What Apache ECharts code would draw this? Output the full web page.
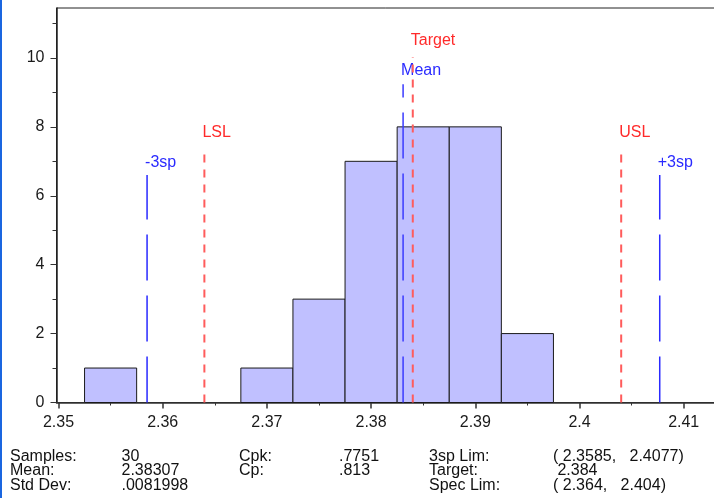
<!DOCTYPE html>
<html>
<head>
<meta charset="utf-8">
<script src="https://cdn.jsdelivr.net/npm/echarts@6/dist/echarts.min.js"></script>
<style>
  html, body { margin: 0; padding: 0; background: #fff; }
  #chart { width: 714px; height: 498px; }
</style>
</head>
<body>
<div id="chart"></div>
<script>
// ---- data ----
const binStarts = [2.3525, 2.3675, 2.3725, 2.3775, 2.3825, 2.3875, 2.3925];
const binEnds   = [2.3575, 2.3725, 2.3775, 2.3825, 2.3875, 2.3925, 2.3975];
const binCounts = [1, 1, 3, 7, 8, 8, 2];

const refNames  = ['-3sp', 'LSL', 'Mean', 'Target', 'USL', '+3sp'];
const refValues = [2.3585, 2.364, 2.38307, 2.384, 2.404, 2.4077];
const refTops   = [6.6, 7.36, 9.24, 10.03, 7.36, 6.6];
const refKinds  = ['sigma', 'spec', 'mean', 'spec', 'spec', 'sigma'];

const xTickValues  = [2.35, 2.36, 2.37, 2.38, 2.39, 2.40, 2.41];
const xMinorValues = [2.355, 2.365, 2.375, 2.385, 2.395, 2.405, 2.415];
const yTickValues  = [0, 2, 4, 6, 8, 10];
const yMinorValues = [1, 3, 5, 7, 9, 11];

const statCol1Labels = ['Samples:', 'Mean:', 'Std Dev:'];
const statCol1Values = ['30', '2.38307', '.0081998'];
const statCol2Labels = ['Cpk:', 'Cp:'];
const statCol2Values = ['.7751', '.813'];
const statCol3Labels = ['3sp Lim:', 'Target:', 'Spec Lim:'];
const statCol3Values = ['( 2.3585,   2.4077)', ' 2.384', '( 2.364,   2.404)'];

// ---- layout / style ----
const FONT = '"Liberation Sans", Arial, sans-serif';
const gridLeft = 56.5, gridTop = 8, gridWidth = 700, gridHeight = 394.5;
const xPerUnit = 10420; // px per x unit
const xMin = 2.35 - 2 / xPerUnit;
const xMax = xMin + gridWidth / xPerUnit;
const yMax = 11.45;

const chart = echarts.init(document.getElementById('chart'), null, { renderer: 'canvas' });

const barData = binStarts.map((s, i) => [s, binEnds[i], binCounts[i]]);
const refData = refValues.map((v, i) => [v, refTops[i], i]);

const styleFor = {
  sigma: { stroke: '#2a2aff', dash: [46, 15], width: 1.5, text: '#2a2aff', labelGap: 14 },
  mean:  { stroke: '#3b3bff', dash: [46, 15], width: 1.5, text: '#2a2aff', labelGap: 15 },
  spec:  { stroke: '#ff5c5c', dash: [8, 7],   width: 2,   text: '#ff2a2a', labelGap: 17.5 }
};

const rowBase = [461.5, 476, 491];
function statTexts(labels, x) {
  return labels.map((t, i) => ({
    type: 'text', x: x, y: rowBase[i] - 5,
    style: { text: t, fill: '#111', font: '16px ' + FONT, verticalAlign: 'middle', align: 'left' }
  }));
}

const graphics = [
  { type: 'rect', shape: { x: 0, y: 0, width: 2, height: 498 }, style: { fill: '#1a66e0' }, z: 100 }
].concat(
  statTexts(statCol1Labels, 10),
  statTexts(statCol1Values, 121.5),
  statTexts(statCol2Labels, 239),
  statTexts(statCol2Values, 339),
  statTexts(statCol3Labels, 429),
  statTexts(statCol3Values, 553)
);

const axisLabelStyle = { fontFamily: FONT, fontSize: 16, color: '#1a1a1a' };

const option = {
  animation: false,
  backgroundColor: '#fff',
  grid: {
    left: gridLeft, top: gridTop, width: gridWidth, height: gridHeight,
    outerBoundsMode: 'none', containLabel: false,
    show: true, borderColor: '#222', borderWidth: 1, backgroundColor: '#fff'
  },
  xAxis: [
    {
      type: 'value', min: xMin, max: xMax,
      axisLine: { show: true, lineStyle: { color: '#333', width: 1.5 } },
      axisTick: { show: true, customValues: xTickValues, length: 6, lineStyle: { color: '#333', width: 1.5 } },
      axisLabel: Object.assign({ customValues: xTickValues, margin: 12, hideOverlap: false,
        showMinLabel: true, showMaxLabel: true,
        formatter: v => String(+(+v).toFixed(2)) }, axisLabelStyle),
      splitLine: { show: false }
    },
    {
      type: 'value', min: xMin, max: xMax, position: 'bottom', offset: 0,
      axisLine: { show: false },
      axisTick: { show: true, customValues: xMinorValues, length: 3, lineStyle: { color: '#333', width: 1 } },
      axisLabel: { show: false },
      splitLine: { show: false }
    }
  ],
  yAxis: [
    {
      type: 'value', min: 0, max: yMax,
      axisLine: { show: true, lineStyle: { color: '#222', width: 1.5 } },
      axisTick: { show: true, customValues: yTickValues, length: 6, lineStyle: { color: '#333', width: 1 } },
      axisLabel: Object.assign({ customValues: yTickValues, margin: 12 }, axisLabelStyle),
      splitLine: { show: false }
    },
    {
      type: 'value', min: 0, max: yMax, position: 'left', offset: 0,
      axisLine: { show: false },
      axisTick: { show: true, customValues: yMinorValues, length: 4, lineStyle: { color: '#333', width: 1 } },
      axisLabel: { show: false },
      splitLine: { show: false }
    }
  ],
  series: [
    {
      type: 'custom',
      name: 'histogram',
      xAxisIndex: 0, yAxisIndex: 0,
      data: barData,
      z: 2,
      renderItem: function (params, api) {
        const p0 = api.coord([api.value(0), api.value(2)]);
        const p1 = api.coord([api.value(1), 0]);
        return {
          type: 'rect',
          shape: { x: p0[0], y: p0[1], width: p1[0] - p0[0], height: p1[1] - p0[1] },
          style: { fill: '#c0c0ff', stroke: '#1a1a1a', lineWidth: 1 }
        };
      }
    },
    {
      type: 'custom',
      name: 'refs',
      xAxisIndex: 0, yAxisIndex: 0,
      data: refData,
      z: 5,
      renderItem: function (params, api) {
        const idx = api.value(2);
        const st = styleFor[refKinds[idx]];
        const b = api.coord([api.value(0), 0]);
        const t = api.coord([api.value(0), api.value(1)]);
        return {
          type: 'group',
          children: [
            {
              type: 'line',
              shape: { x1: b[0], y1: b[1], x2: t[0], y2: t[1] },
              style: { stroke: st.stroke, lineWidth: st.width, lineDash: st.dash }
            },
            {
              type: 'text',
              x: t[0] - 2, y: t[1] - st.labelGap + 1,
              style: { text: refNames[idx], fill: st.text, font: '16px ' + FONT,
                       align: 'left', verticalAlign: 'middle' }
            }
          ]
        };
      }
    }
  ],
  graphic: graphics
};

chart.setOption(option);
</script>
</body>
</html>
